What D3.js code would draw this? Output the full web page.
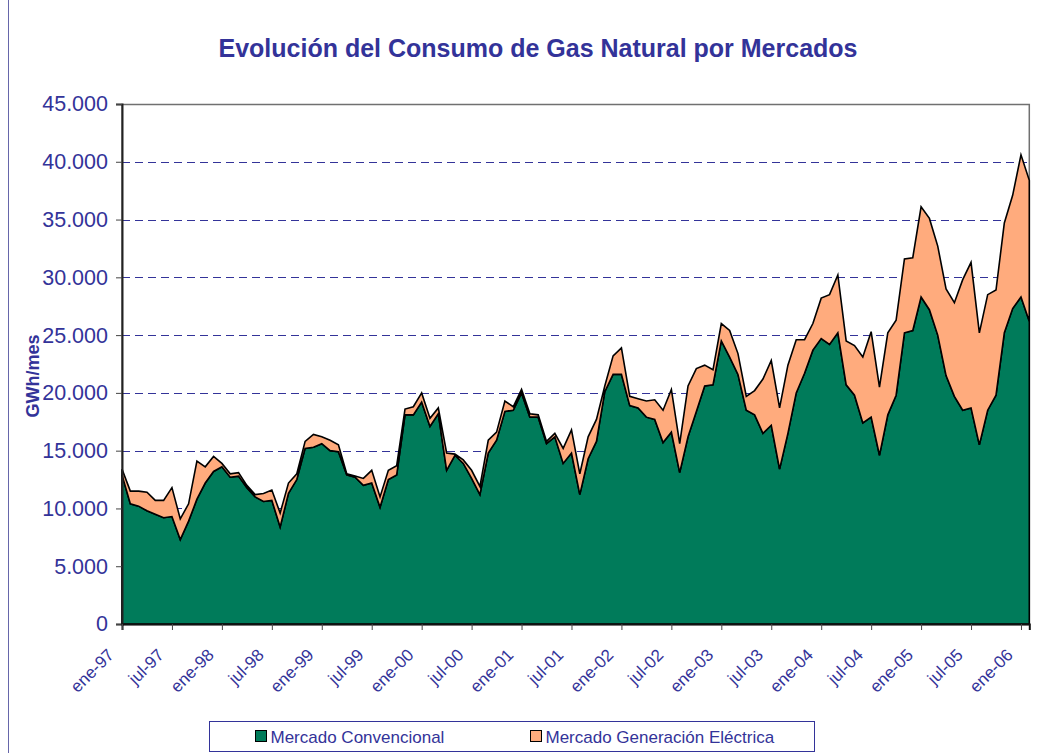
<!DOCTYPE html>
<html>
<head>
<meta charset="utf-8">
<script src="https://cdn.jsdelivr.net/npm/d3@7"></script>
<style>
  html, body { margin: 0; padding: 0; background: #fff; }
  svg { display: block; font-family: "Liberation Sans", Arial, sans-serif; }
</style>
</head>
<body>
<svg id="chart" width="1051" height="753"></svg>
<script>
// ---------- DATA (GWh/mes), monthly ene-97 .. feb-06 ----------
const monthNames = ["ene","feb","mar","abr","may","jun","jul","ago","sep","oct","nov","dic"];
const years = ["97","98","99","00","01","02","03","04","05","06"];

const mercadoConvencional = [
  12900,10400,10200,9800,9500,9200,9300,7300,8900,10800,12200,13200,
  13600,12700,12800,11800,11000,10600,10700,8400,11300,12500,15200,15300,
  15600,15000,14900,12900,12700,12000,12200,10100,12500,12900,18100,18100,
  19200,17100,18200,13300,14600,13900,12600,11200,14800,15900,18400,18500,
  20000,17900,17900,15600,16200,13900,14800,11200,14300,15800,20100,21600,
  21600,18900,18700,17900,17700,15700,16600,13100,16200,18400,20600,20700,
  24500,23100,21600,18500,18100,16500,17200,13400,16500,20000,21700,23700,
  24700,24200,25200,20700,19800,17400,17900,14600,18100,19800,25200,25400,
  28300,27200,25000,21500,19700,18500,18700,15500,18500,19800,25200,27300,
  28300,26200
];
const mercadoGeneracionElectrica = [
  500,1100,1300,1600,1200,1500,2500,1800,1500,3300,1400,1300,
  300,300,300,200,200,700,900,1200,900,500,600,1100,
  600,900,600,100,100,600,1100,900,800,800,500,700,
  800,700,500,1500,100,300,700,700,1100,700,900,300,
  300,300,200,200,300,1300,2000,1800,1900,1900,500,1600,
  2300,800,800,1400,1700,2800,3700,2500,4400,3700,1800,1300,
  1500,2300,1800,1200,2100,4700,5600,5300,5900,4600,2900,2300,
  3500,4300,5000,3800,4300,5700,7400,5900,7100,6500,6400,6300,
  7800,7900,7700,7500,8100,11300,12600,9700,10000,9100,9500,9800,
  12300,12200
];
const tickLabels = ["ene-97","jul-97","ene-98","jul-98","ene-99","jul-99","ene-00","jul-00",
  "ene-01","jul-01","ene-02","jul-02","ene-03","jul-03","ene-04","jul-04","ene-05","jul-05","ene-06"];
const yTicks = [0,5000,10000,15000,20000,25000,30000,35000,40000,45000];
const seriesNames = ["Mercado Convencional","Mercado Generación Eléctrica"];
const seriesColors = ["#007b5a","#ffab7d"];

// categories (month labels)
const categories = [];
years.forEach(yr => monthNames.forEach(m => categories.push(m + "-" + yr)));
categories.length = mercadoConvencional.length;

// ---------- LAYOUT ----------
const svg = d3.select("#chart");
const textColor = "#333399";
const pLeft = 122, pRight = 1029.3, pTop = 104, pBottom = 624;

const x = d3.scalePoint().domain(categories).range([pLeft, pRight]);
const y = d3.scaleLinear().domain([0, 45000]).range([pBottom, pTop]);

const locale = d3.formatLocale({decimal: ",", thousands: ".", grouping: [3], currency: ["", "€"]});
const fmt = locale.format(",");

// outer chart border (left edge visible)
svg.append("line").attr("x1", 8.5).attr("x2", 8.5).attr("y1", 0).attr("y2", 753)
  .attr("stroke", "#6666aa").attr("stroke-width", 1);

// title
svg.append("text").attr("x", 538).attr("y", 57).attr("text-anchor", "middle")
  .attr("font-size", 25).attr("font-weight", "bold").attr("fill", textColor)
  .text("Evolución del Consumo de Gas Natural por Mercados");

// gridlines
svg.append("g").selectAll("line").data(yTicks.filter(d => d > 0 && d < 45000)).join("line")
  .attr("x1", pLeft).attr("x2", pRight)
  .attr("y1", d => Math.round(y(d)) + 0.5).attr("y2", d => Math.round(y(d)) + 0.5)
  .attr("stroke", textColor).attr("stroke-width", 1).attr("stroke-dasharray", "8,5");

// plot area border
svg.append("rect").attr("x", pLeft).attr("y", pTop + 0.5).attr("width", pRight - pLeft).attr("height", pBottom - pTop)
  .attr("fill", "none").attr("stroke", "#707070").attr("stroke-width", 1.5);

// stacked areas
const table = categories.map((c, i) => ({cat: c, conv: mercadoConvencional[i], elec: mercadoGeneracionElectrica[i]}));
const stack = d3.stack().keys(["conv", "elec"])(table);
const area = d3.area().x(d => x(d.data.cat)).y0(d => y(d[0])).y1(d => y(d[1]));

svg.append("g").selectAll("path").data(stack).join("path")
  .attr("d", area)
  .attr("fill", (d, i) => seriesColors[i])
  .attr("stroke", "#000").attr("stroke-width", 1.6).attr("stroke-linejoin", "miter");

// y axis
const yAxis = svg.append("g").attr("transform", `translate(${pLeft},0)`)
  .call(d3.axisLeft(y).tickValues(yTicks).tickSize(6).tickPadding(8).tickFormat(fmt));
yAxis.select(".domain").attr("stroke", "#222").attr("stroke-width", 2);
yAxis.selectAll(".tick line").attr("stroke", "#444");
yAxis.selectAll("text").attr("fill", textColor).attr("font-size", 21.5)
  .attr("font-family", "Liberation Sans, Arial, sans-serif");

// x axis
const xAxis = svg.append("g").attr("transform", `translate(0,${pBottom})`)
  .call(d3.axisBottom(x).tickValues(tickLabels).tickSize(6).tickFormat(""));
xAxis.select(".domain").attr("stroke", "#111").attr("stroke-width", 2);
xAxis.selectAll(".tick line").attr("stroke", "#444");

svg.append("g").selectAll("text").data(tickLabels).join("text")
  .attr("transform", d => `translate(${x(d) - 7},${pBottom + 32}) rotate(-45)`)
  .attr("text-anchor", "end")
  .attr("font-size", 17).attr("fill", textColor)
  .text(d => d);

// y axis title
svg.append("text").attr("transform", "translate(39,376) rotate(-90)").attr("text-anchor", "middle")
  .attr("font-size", 18).attr("font-weight", "bold").attr("fill", textColor).text("GWh/mes");

// legend
const lg = svg.append("g");
lg.append("rect").attr("x", 209.5).attr("y", 721.5).attr("width", 605).attr("height", 30)
  .attr("fill", "#fff").attr("stroke", "#333399").attr("stroke-width", 1);
const legendX = [255.5, 530.5];
seriesNames.forEach((name, i) => {
  lg.append("rect").attr("x", legendX[i]).attr("y", 730.5).attr("width", 11).attr("height", 11)
    .attr("fill", seriesColors[i]).attr("stroke", "#000").attr("stroke-width", 1);
  lg.append("text").attr("x", legendX[i] + 15).attr("y", 742.5).attr("font-size", 17)
    .attr("fill", textColor).text(name);
});
</script>
</body>
</html>
